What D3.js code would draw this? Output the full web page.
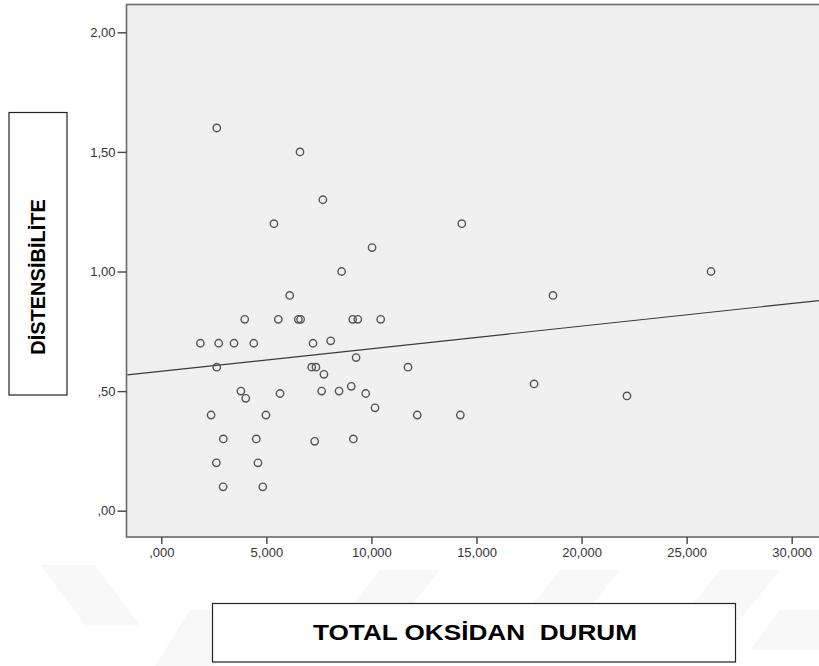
<!DOCTYPE html>
<html><head><meta charset="utf-8">
<script src="https://cdn.jsdelivr.net/npm/d3@7"></script>
<style>body{margin:0;background:#fff}svg{display:block}</style>
</head><body>
<script>
// ---- data ----
const xValues = [2.64,6.60,7.69,5.36,14.30,10.03,8.58,26.16,6.11,18.64,
  3.97,5.57,6.52,6.63,9.11,9.35,10.44,1.86,2.73,3.46,
  4.40,7.22,8.06,9.27,2.64,7.16,7.36,11.74,7.74,3.79,
  4.02,5.65,7.63,8.46,9.04,9.73,10.17,17.74,22.16,2.37,
  4.98,12.18,14.23,2.95,4.52,7.30,9.14,2.62,4.60,2.94,4.83];
const yValues = [1.60,1.50,1.30,1.20,1.20,1.10,1.00,1.00,0.90,0.90,
  0.80,0.80,0.80,0.80,0.80,0.80,0.80,0.70,0.70,0.70,
  0.70,0.70,0.71,0.64,0.60,0.60,0.60,0.60,0.57,0.50,
  0.47,0.49,0.50,0.50,0.52,0.49,0.43,0.53,0.48,0.40,
  0.40,0.40,0.40,0.30,0.30,0.29,0.30,0.20,0.20,0.10,0.10];
const xTicks = [0,5,10,15,20,25,30];
const yTicks = [0,0.5,1,1.5,2];
const fitIntercept = 0.583;
const fitSlope = 0.00944;
const xTitle = "TOTAL OKSİDAN  DURUM";
const yTitle = "DİSTENSİBİLİTE";

const W = 819, H = 666;
const svg = d3.select("body").append("svg").attr("width", W).attr("height", H);

// faint watermark stripes at bottom
const stripes = [[40,565,95,565,140,625,85,625],[190,610,250,610,215,666,155,666],
  [380,570,440,570,400,620,340,620],[560,570,620,570,580,620,520,620],
  [720,570,780,570,740,620,680,620],[780,610,819,610,819,650,750,650]];
svg.append("g").selectAll("polygon").data(stripes).join("polygon")
  .attr("points", d => [[d[0],d[1]],[d[2],d[3]],[d[4],d[5]],[d[6],d[7]]].map(p=>p.join(",")).join(" "))
  .attr("fill", "#f8f8f8");

const x = d3.scaleLinear().domain([0, 30]).range([161.3, 791.7]);
const y = d3.scaleLinear().domain([0, 2]).range([510.7, 32.3]);

const frame = {left: 126.5, top: 4.5, right: 822, bottom: 537};
svg.append("rect").attr("x", frame.left).attr("y", frame.top)
  .attr("width", frame.right - frame.left).attr("height", frame.bottom - frame.top)
  .attr("fill", "#f0f0f0").attr("stroke", "#6a6a6a").attr("stroke-width", 1.6);

// axes
const fmtY = v => d3.format(".2f")(v).replace(".", ",").replace(/^0/, "");
const fmtX = v => d3.format(".3f")(v).replace(".", ",").replace(/^0/, "");
const yAxis = svg.append("g").attr("transform", `translate(${frame.left},0)`)
  .call(d3.axisLeft(y).tickValues(yTicks).tickFormat(fmtY).tickSize(9).tickPadding(2));
const xAxis = svg.append("g").attr("transform", `translate(0,${frame.bottom})`)
  .call(d3.axisBottom(x).tickValues(xTicks).tickFormat(fmtX).tickSize(7).tickPadding(4));
[yAxis, xAxis].forEach(a => {
  a.select(".domain").remove();
  a.selectAll("line").attr("stroke", "#444").attr("stroke-width", 1.4);
  a.selectAll("text").attr("fill", "#333").attr("font-family", "Liberation Sans, Arial, sans-serif")
    .attr("font-size", 13);
});

// fit line
const x0 = x.invert(frame.left + 0.8), x1 = x.invert(frame.right);
svg.append("line")
  .attr("x1", x(x0)).attr("y1", y(fitIntercept + fitSlope * x0))
  .attr("x2", x(x1)).attr("y2", y(fitIntercept + fitSlope * x1))
  .attr("stroke", "#3a3a3a").attr("stroke-width", 1.2);

// points
svg.append("g").selectAll("circle").data(xValues.map((v, i) => [v, yValues[i]])).join("circle")
  .attr("cx", d => x(d[0])).attr("cy", d => y(d[1])).attr("r", 3.7)
  .attr("fill", "none").attr("stroke", "#555").attr("stroke-width", 1.4);

// y title box
svg.append("rect").attr("x", 9).attr("y", 112.5).attr("width", 58).attr("height", 282.5)
  .attr("fill", "#fff").attr("stroke", "#222").attr("stroke-width", 1.2);
svg.append("text").attr("transform", "translate(45,277) rotate(-90)")
  .attr("text-anchor", "middle").attr("font-family", "Liberation Sans, Arial, sans-serif")
  .attr("font-weight", "bold").attr("font-size", 20).attr("fill", "#000").text(yTitle);

// x title box
svg.append("rect").attr("x", 212.5).attr("y", 603.5).attr("width", 523).attr("height", 58.5)
  .attr("fill", "#fff").attr("stroke", "#222").attr("stroke-width", 1.2);
svg.append("text").attr("x", 475).attr("y", 640)
  .attr("text-anchor", "middle").attr("font-family", "Liberation Sans, Arial, sans-serif")
  .attr("font-weight", "bold").attr("font-size", 22).attr("fill", "#000")
  .attr("textLength", 324).attr("lengthAdjust", "spacingAndGlyphs")
  .style("white-space", "pre").text(xTitle);
</script>
</body></html>
